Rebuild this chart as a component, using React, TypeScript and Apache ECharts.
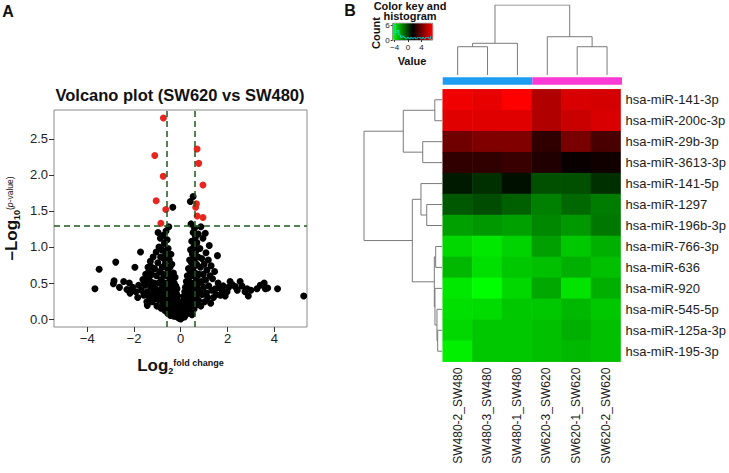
import React, { useEffect, useRef } from "react";
import * as echarts from "echarts";

const FONT = '"Liberation Sans", Arial, sans-serif';

// ---------------- Panel A: volcano plot ----------------
const xTicks = [-4, -2, 0, 2, 4];
const yTicks = [0, 0.5, 1, 1.5, 2, 2.5];
const foldCut = [-0.585, 0.585];
const pCut = 1.301;

const sigPoints: number[][] = [
  [-0.74, 2.79], [-1.11, 2.27], [-0.75, 1.98], [-1.05, 1.64], [-0.64, 1.52], [-0.85, 1.33],
  [0.70, 2.36], [0.77, 2.16], [0.95, 1.86], [0.67, 1.60], [0.64, 1.55], [0.70, 1.43], [0.95, 1.41],
];

const otherPoints: number[][] = [
  [-3.67, 0.42], [-3.49, 0.69], [-2.78, 0.79], [-2.85, 0.53], [-2.88, 0.49], [-2.62, 0.44], [-2.44, 0.52],
  [-2.3, 0.41], [-2.2, 0.5], [-2.17, 0.36], [-2.06, 0.44], [-1.96, 0.72], [-1.92, 0.38], [-1.84, 0.3],
  [-1.8, 0.47], [-1.72, 0.93], [-1.68, 0.4], [-1.62, 0.55], [-1.58, 0.33], [-1.55, 0.5], [-1.52, 0.47],
  [-1.5, 0.62], [-1.45, 0.24], [-1.43, 0.19], [-1.42, 0.38], [-1.4, 0.72], [-1.38, 0.65], [-1.36, 0.55],
  [-1.34, 0.3], [-1.3, 0.8], [-1.3, 0.52], [-1.28, 0.45], [-1.25, 0.62], [-1.25, 0.72], [-1.22, 0.24],
  [-1.2, 0.35], [-1.18, 0.86], [-1.15, 0.5], [-1.15, 0.4], [-1.12, 0.7], [-1.1, 0.28], [-1.08, 0.42],
  [-1.05, 0.93], [-1.04, 0.6], [-1.02, 0.18], [-1.0, 0.34], [-0.98, 0.78], [-0.97, 1.2], [-0.95, 0.5],
  [-0.95, 0.3], [-0.93, 1.0], [-0.92, 0.26], [-0.9, 0.66], [-0.88, 0.4], [-0.87, 1.12], [-0.86, 0.86],
  [-0.84, 0.15], [-0.83, 0.55], [-0.81, 0.3], [-0.8, 0.96], [-0.79, 0.72], [-0.78, 0.44], [-0.77, 1.16],
  [-0.75, 0.22], [-0.74, 0.62], [-0.73, 0.84], [-0.72, 0.35], [-0.7, 1.05], [-0.69, 0.5], [-0.68, 0.12],
  [-0.67, 0.76], [-0.66, 0.28], [-0.65, 0.92], [-0.64, 0.42], [-0.63, 1.22], [-0.62, 0.6], [-0.61, 0.2],
  [-0.6, 0.84], [-0.59, 0.36], [-0.58, 1.1], [-0.57, 0.7], [-0.56, 0.08], [-0.55, 0.5], [-0.54, 0.98],
  [-0.53, 0.26], [-0.52, 0.64], [-0.51, 1.28], [-0.5, 0.4], [-0.49, 0.82], [-0.48, 0.16], [-0.47, 0.56],
  [-0.46, 0.72], [-0.45, 0.3], [-0.44, 0.05], [-0.43, 0.46], [-0.42, 0.9], [-0.41, 0.62], [-0.4, 0.22],
  [-0.39, 0.36], [-0.38, 0.76], [-0.37, 0.1], [-0.36, 0.52], [-0.35, 0.28], [-0.34, 1.55], [-0.33, 0.44],
  [-0.32, 0.16], [-0.31, 0.64], [-0.3, 0.34], [-0.29, 0.04], [-0.28, 0.5], [-0.27, 0.24], [-0.26, 0.4],
  [-0.25, 0.12], [-0.24, 0.58], [-0.23, 0.3], [-0.22, 0.06], [-0.21, 0.46], [-0.2, 0.2], [-0.19, 0.36],
  [-0.18, 0.1], [-0.17, 0.26], [-0.16, 0.42], [-0.15, 0.03], [-0.14, 0.16], [-0.13, 0.32], [-0.12, 0.08],
  [-0.11, 0.22], [-0.1, 0.12], [-0.09, 0.02], [-0.08, 0.18], [-0.07, 0.06], [-0.06, 0.14], [-0.05, 0.01],
  [-0.04, 0.09], [-0.03, 0.04], [-0.02, 0.02], [0, 0],
  [0.02, 0.03], [0.04, 0.08], [0.05, 0.02], [0.06, 0.13], [0.07, 0.05], [0.08, 0.2], [0.09, 0.1],
  [0.1, 0.04], [0.11, 0.26], [0.12, 0.15], [0.13, 0.08], [0.14, 0.32], [0.15, 0.2], [0.16, 0.03],
  [0.17, 0.38], [0.18, 0.12], [0.19, 0.27], [0.2, 0.44], [0.21, 0.06], [0.22, 0.2], [0.23, 0.34],
  [0.24, 0.52], [0.25, 0.14], [0.26, 0.42], [0.27, 0.26], [0.28, 0.6], [0.29, 0.08], [0.3, 0.36],
  [0.31, 0.5], [0.32, 0.18], [0.33, 0.7], [0.34, 0.3], [0.35, 0.44], [0.36, 0.1], [0.37, 0.58],
  [0.38, 0.82], [0.39, 0.24], [0.4, 0.38], [0.41, 1.63], [0.41, 0.66], [0.42, 0.96], [0.43, 0.16],
  [0.44, 1.32], [0.44, 0.5], [0.45, 0.32], [0.46, 0.78], [0.47, 1.08], [0.48, 0.06], [0.49, 0.44],
  [0.5, 0.9], [0.51, 0.22], [0.52, 0.6], [0.53, 1.7], [0.53, 1.2], [0.54, 0.36], [0.55, 0.72],
  [0.56, 1.0], [0.57, 0.14], [0.58, 0.5], [0.59, 1.26], [0.6, 0.84], [0.61, 0.28], [0.62, 0.64],
  [0.63, 1.14], [0.64, 0.42], [0.65, 0.94], [0.66, 0.2], [0.67, 0.56], [0.68, 0.76], [0.69, 1.06],
  [0.7, 0.34], [0.72, 0.48], [0.74, 0.86], [0.75, 1.18], [0.76, 0.26], [0.78, 0.62], [0.8, 0.4],
  [0.82, 0.98], [0.84, 0.72], [0.86, 0.18], [0.86, 1.28], [0.88, 0.52], [0.9, 0.84], [0.92, 0.34],
  [0.95, 1.12], [0.96, 0.62], [0.98, 0.44], [1.0, 0.76], [1.02, 0.24], [1.05, 1.19], [1.06, 0.54],
  [1.08, 0.92], [1.1, 0.36], [1.12, 0.68], [1.15, 0.3], [1.18, 0.82], [1.2, 0.46], [1.22, 1.02],
  [1.25, 0.6], [1.28, 0.22], [1.3, 0.74], [1.33, 0.4], [1.36, 0.56], [1.4, 0.3], [1.45, 0.66],
  [1.48, 0.42], [1.52, 0.34], [1.57, 0.88], [1.6, 0.5], [1.65, 0.44], [1.7, 0.33], [1.76, 0.4],
  [1.82, 0.46], [1.9, 0.32], [1.98, 0.38], [2.05, 0.44], [2.11, 0.52], [2.2, 0.48], [2.33, 0.45],
  [2.42, 0.4], [2.54, 0.52], [2.62, 0.46], [2.75, 0.38], [2.84, 0.42], [2.89, 0.32], [3.0, 0.4],
  [3.26, 0.42], [3.4, 0.47], [3.57, 0.5], [3.62, 0.42], [3.72, 0.43], [4.14, 0.42], [5.26, 0.32],
];

// ---------------- Panel B: heatmap ----------------
const samples = [
  "SW480-2_SW480", "SW480-3_SW480", "SW480-1_SW480",
  "SW620-3_SW620", "SW620-1_SW620", "SW620-2_SW620",
];
const mirnas = [
  "hsa-miR-141-3p", "hsa-miR-200c-3p", "hsa-miR-29b-3p", "hsa-miR-3613-3p", "hsa-miR-141-5p",
  "hsa-miR-1297", "hsa-miR-196b-3p", "hsa-miR-766-3p", "hsa-miR-636", "hsa-miR-920",
  "hsa-miR-545-5p", "hsa-miR-125a-3p", "hsa-miR-195-3p",
];
const groupNames = ["SW480", "SW620"];
const groupSizes = [3, 3];
const groupColors = ["#1e9cf0", "#fb3ad6"];
const expr: number[][] = [
  [7.05, 6.86, 7.4, 5.54, 6.48, 6.39],
  [6.67, 6.67, 6.67, 5.54, 6.11, 6.48],
  [4.04, 4.41, 4.41, 2.53, 4.22, 3.09],
  [2.53, 2.53, 2.72, 2.15, 1.59, 1.78],
  [0.79, 0.27, 1.02, -0.48, -0.48, 0.27],
  [-0.67, -0.39, -0.86, -1.61, -1.05, -1.52],
  [-2.36, -2.18, -2.36, -1.8, -2.18, -1.42],
  [-3.68, -4.06, -3.59, -2.36, -3.31, -2.74],
  [-2.93, -3.87, -3.31, -3.12, -2.74, -3.12],
  [-4.06, -4.6, -3.68, -2.55, -3.96, -2.74],
  [-3.87, -3.78, -3.31, -3.31, -2.93, -3.31],
  [-3.68, -3.31, -3.31, -3.12, -2.74, -3.12],
  [-4.25, -3.31, -3.31, -3.12, -2.93, -3.12],
];
// hclust-style merges: negative = leaf (1-based), positive = earlier merge, then height
const rowMerges: number[][] = [
  [-1, -2, 0.9], [-3, -4, 2.41], [1, 2, 4.84], [-6, -7, 1.91], [-5, 4, 2.63], [-8, -9, 0.79],
  [-12, -13, 0.54], [-11, 7, 0.63], [-10, 8, 0.88], [6, 9, 0.96], [5, 10, 3.71], [3, 11, 9.75],
];
const colMerges: number[][] = [
  [-1, -2, 4.04], [1, -3, 4.53], [-5, -6, 4.04], [-4, 3, 5.47], [2, 4, 10],
];
const keyMin = -4.6;
const keyMax = 7.4;
const keyTicks = [-4, 0, 4];
const countTicks = [0, 6];
const histValues = [-4.5, -4, -3.5, -3, -2.5, -2, -1.5, -1, -0.5, 0, 0.5, 1, 1.5, 2, 2.5, 3, 3.5, 4, 4.5, 5, 5.5, 6, 6.5, 7];
const histCounts = [2, 6, 3, 4, 2, 1, 1.5, 1, 0.5, 1, 0.5, 1, 0.5, 1, 0.5, 1, 1, 0.5, 1, 0.5, 1, 1, 0.5, 1.5];

function dendroSegments(merges: number[][]) {
  const pos: number[] = [];
  const hts: number[] = [];
  const segs: number[][][] = [];
  const get = (n: number) => (n < 0 ? [-n - 1, 0] : [pos[n - 1], hts[n - 1]]);
  merges.forEach(([a, b, h]) => {
    const [pa, ha] = get(a);
    const [pb, hb] = get(b);
    segs.push([[pa, ha], [pa, h], [pb, h], [pb, hb]]);
    pos.push((pa + pb) / 2);
    hts.push(h);
  });
  return segs;
}

export default function App() {
  const ref = useRef<HTMLDivElement>(null);
  useEffect(() => {
    if (!ref.current) return;
    const chart = echarts.init(ref.current, null, { renderer: "svg" });

    const heatData: number[][] = [];
    expr.forEach((row, r) => row.forEach((v, c) => heatData.push([c, r, v])));
    const colSegs = dendroSegments(colMerges).map((s) => ({ coords: s }));
    const rowSegs = dendroSegments(rowMerges).map((s) => ({ coords: s.map(([p, h]) => [h, p]) }));

    const tickStyle = { color: "#222", fontSize: 13, fontFamily: FONT };
    const minus = (v: number) => (v < 0 ? "\u2212" + Math.abs(v) : String(v));
    const txt = (x: number, y: number, text: string, font: string, extra: any = {}) => ({
      type: "text", x, y, ...extra,
      style: { text, font, fill: "#111", textAlign: "center", textVerticalAlign: "top", verticalAlign: "top", ...(extra.style || {}) },
    });
    const richName = (supSize: number, supBold: boolean, supDrop: number) => ({
      rich: {
        b: { fontSize: 17, fontWeight: "bold", fontFamily: FONT, color: "#111", lineHeight: 20, verticalAlign: "middle" },
        s: { fontSize: 9, fontWeight: "bold", fontFamily: FONT, color: "#111", lineHeight: 6, verticalAlign: "bottom" },
        p: { fontSize: supSize, fontWeight: supBold ? "bold" : "normal", fontFamily: FONT, color: "#111", lineHeight: 11, padding: [supDrop, 0, 0, 0], verticalAlign: "top" },
        i: { fontSize: supSize, fontStyle: "italic", fontFamily: FONT, color: "#111", lineHeight: 11, padding: [supDrop, 0, 0, 0], verticalAlign: "top" },
      },
    });

    const option: any = {
      animation: false,
      textStyle: { fontFamily: FONT },
      grid: [
        { left: 53, top: 110, width: 254, height: 217, show: true, borderColor: "#8a8a8a", borderWidth: 1, backgroundColor: "transparent" },
        { left: 442.7, top: 89.3, width: 179.3, height: 272.4 },
        { left: 442.7, top: 77.3, width: 179.3, height: 7.4 },
        { left: 442.7, top: 5, width: 179.3, height: 70 },
        { left: 342, top: 89.3, width: 100, height: 272.4 },
        { left: 392.7, top: 23.3, width: 40, height: 16.7, show: true, borderColor: "#555", borderWidth: 0.8 },
      ],
      xAxis: [
        {
          type: "value", gridIndex: 0, min: -5.42, max: 5.4,
          axisLine: { show: false, onZero: false }, splitLine: { show: false },
          axisTick: { show: true, length: 5, customValues: xTicks, lineStyle: { color: "#333" } },
          axisLabel: { customValues: xTicks, margin: 5, formatter: minus, ...tickStyle },
          name: "{b|Log}{s|2}{p|fold change}", nameLocation: "middle", nameGap: 28,
          nameTextStyle: richName(9, true, 3),
        },
        {
          type: "category", gridIndex: 1, data: samples, position: "bottom",
          axisLine: { show: false }, axisTick: { show: false }, splitLine: { show: false },
          axisLabel: { rotate: 90, margin: 6, color: "#222", fontSize: 12, fontFamily: FONT },
        },
        { type: "value", gridIndex: 2, min: 0, max: 6, show: false },
        { type: "value", gridIndex: 3, min: -0.5, max: 5.5, show: false },
        { type: "value", gridIndex: 4, min: 0, max: 12.5, inverse: true, show: false },
        {
          type: "value", gridIndex: 5, min: keyMin, max: keyMax,
          axisLine: { show: false, onZero: false }, splitLine: { show: false },
          axisTick: { show: true, length: 2, customValues: keyTicks, lineStyle: { color: "#333" } },
          axisLabel: { customValues: keyTicks, margin: 3, fontSize: 8, color: "#222", formatter: minus },
        },
      ],
      yAxis: [
        {
          type: "value", gridIndex: 0, min: -0.11, max: 2.9,
          axisLine: { show: false, onZero: false }, splitLine: { show: false },
          axisTick: { show: true, length: 5, customValues: yTicks, lineStyle: { color: "#333" } },
          axisLabel: { customValues: yTicks, margin: 6, formatter: (v: number) => v.toFixed(1), ...tickStyle },
          name: "{b|\u2013Log}{s|10}{p|(}{i|p}{p|-value)}", nameLocation: "middle", nameRotate: 90, nameGap: 33,
          nameTextStyle: richName(8.5, false, 4),
        },
        {
          type: "category", gridIndex: 1, data: mirnas, inverse: true, position: "right",
          axisLine: { show: false }, axisTick: { show: false }, splitLine: { show: false },
          axisLabel: { margin: 5, ...tickStyle },
        },
        { type: "category", gridIndex: 2, data: ["group"], show: false },
        { type: "value", gridIndex: 3, min: 0, max: 10, show: false },
        { type: "value", gridIndex: 4, min: -0.5, max: 12.5, inverse: true, show: false },
        {
          type: "value", gridIndex: 5, min: 0, max: 6.8,
          axisLine: { show: false, onZero: false }, splitLine: { show: false },
          axisTick: { show: true, length: 2, customValues: countTicks, lineStyle: { color: "#333" } },
          axisLabel: { customValues: countTicks, margin: 3, fontSize: 8, color: "#222" },
        },
      ],
      visualMap: {
        type: "continuous", seriesIndex: 2, min: keyMin, max: keyMax,
        inRange: { color: ["#00ff00", "#000000", "#ff0000"] },
        orient: "horizontal", left: 392.7, top: 23.3, itemWidth: 16.7, itemHeight: 40,
        calculable: false, padding: 0, text: null, hoverLink: false, z: 1,
      },
      series: [
        {
          type: "scatter", xAxisIndex: 0, yAxisIndex: 0, data: otherPoints, symbolSize: 7,
          itemStyle: { color: "#000", opacity: 1 }, silent: true, z: 2,
        },
        {
          type: "scatter", xAxisIndex: 0, yAxisIndex: 0, data: sigPoints, symbolSize: 7,
          itemStyle: { color: "#e8251f", opacity: 1 }, silent: true, z: 3,
          markLine: {
            silent: true, symbol: "none", label: { show: false },
            lineStyle: { color: "#1d5a1d", type: [6, 4], width: 1.5 },
            data: [{ xAxis: foldCut[0] }, { xAxis: foldCut[1] }, { yAxis: pCut }],
          },
        },
        {
          type: "heatmap", xAxisIndex: 1, yAxisIndex: 1, data: heatData, silent: true,
          emphasis: { disabled: true },
        },
        ...groupNames.map((g, i) => ({
          type: "bar", name: g, xAxisIndex: 2, yAxisIndex: 2, stack: "grp", barWidth: "100%",
          data: [groupSizes[i]], itemStyle: { color: groupColors[i] }, silent: true,
        })),
        {
          type: "lines", coordinateSystem: "cartesian2d", xAxisIndex: 3, yAxisIndex: 3, polyline: true,
          data: colSegs, lineStyle: { color: "#7a7a7a", width: 1, opacity: 1 }, silent: true,
        },
        {
          type: "lines", coordinateSystem: "cartesian2d", xAxisIndex: 4, yAxisIndex: 4, polyline: true,
          data: rowSegs, lineStyle: { color: "#7a7a7a", width: 1, opacity: 1 }, silent: true,
        },
        {
          type: "line", xAxisIndex: 5, yAxisIndex: 5, step: "middle", symbol: "none",
          data: histValues.map((v, i) => [v, histCounts[i]]),
          lineStyle: { color: "#00e5e5", width: 0.8 }, silent: true, z: 5,
        },
      ],
      graphic: [
        txt(8, 3, "A", `bold 16px ${FONT}`),
        txt(350, 2, "B", `bold 16px ${FONT}`),
        txt(180, 86, "Volcano plot (SW620 vs SW480)", `bold 16.5px ${FONT}`),
        txt(410, 0.5, "Color key and\nhistogram", `bold 11px ${FONT}`, { style: { lineHeight: 10.5 } }),
        {
          type: "text", x: 376, y: 33, rotation: Math.PI / 2,
          style: { text: "Count", font: `bold 11px ${FONT}`, fill: "#111", textAlign: "center", textVerticalAlign: "middle", verticalAlign: "middle" },
        },
        txt(412, 55, "Value", `bold 11px ${FONT}`),
      ],
    };
    chart.setOption(option);
    return () => chart.dispose();
  }, []);
  return <div ref={ref} style={{ position: "absolute", left: 0, top: 0, width: 729, height: 473 }} />;
}
